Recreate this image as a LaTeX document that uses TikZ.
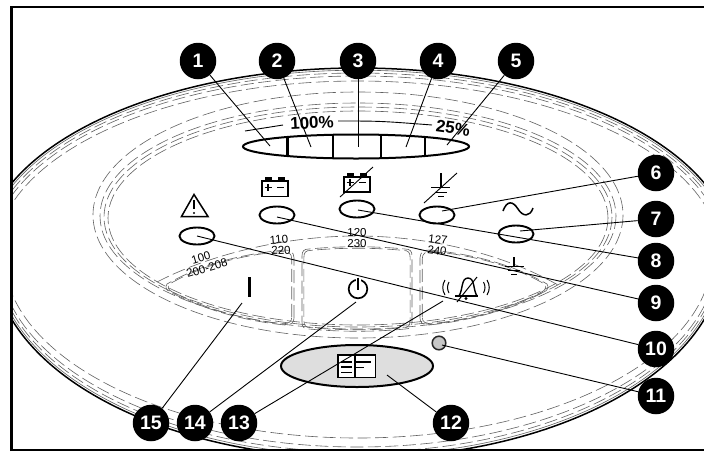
\documentclass[tikz,border=0pt]{standalone}
\usepackage{fontspec}
\setmainfont{Liberation Sans}
% #1 style, #2 top offset, #3 bottom x offset, #4 bottom y offset
\newcommand\Shell[4]{%
 \begin{scope}\clip (12,8) rectangle (704,255);\draw[#1] (358,255) ellipse [x radius=375-#2,y radius=187-#2];\end{scope}%
 \begin{scope}\clip (12,255) rectangle (704,450);\draw[#1] (358,255) ellipse [x radius=365-#3,y radius=203-#4];\end{scope}}
\tikzset{
 badge/.style={circle,fill=black,text=white,minimum size=36.5,inner sep=0,font=\fontsize{19.5}{20}\selectfont\bfseries},
 leader/.style={line width=.9,black},
 ring/.style={line width=.6,draw=black!62,dash pattern=on 13 off 4.5},
 led/.style={draw=black,line width=1.9,fill=none},
 volt/.style={inner sep=0,font=\fontsize{11.5}{12}\selectfont},
 pct/.style={inner sep=0,font=\fontsize{17}{18}\selectfont\bfseries},
 icon/.style={line width=1.5,black}
}
\begin{document}
\begin{tikzpicture}[x=1pt,y=-1pt]
\useasboundingbox (0,0) rectangle (704,451);
\fill[white] (0,0) rectangle (704,451);
% outer shell
\Shell{line width=1.5,black}{0}{0}{0}
\Shell{line width=.6,black!62}{2.2}{2}{2.5}
\Shell{ring}{5}{4}{6}
\Shell{ring}{8}{6}{11}
\Shell{ring}{13}{11}{20}
% inner rings
\draw[ring] (358,215) ellipse [x radius=265,y radius=123];
\draw[ring] (358,216) ellipse [x radius=258,y radius=113];
\draw[ring] (358,217) ellipse [x radius=254,y radius=110];
\draw[ring] (358,218) ellipse [x radius=250,y radius=107];
% panels
\draw[ring] (157,282) .. controls (215,252) and (290,236) .. (357,236) .. controls (425,236) and (500,252) .. (558,285);
\foreach \i/\s in {0/1,1/.965}{
 \begin{scope}[shift={(231,288)},xscale=\s,yscale=\s,shift={(-231,-288)}]
 \draw[ring] (294,318) -- (294,258) .. controls (294,252) and (290,250) .. (285,250) .. controls (240,254) and (200,265) .. (167,284) .. controls (165,287) and (166,290) .. (170,292) .. controls (205,310) and (245,321) .. (285,325) .. controls (291,325) and (294,323) .. (294,318);
 \end{scope}
 \begin{scope}[shift={(483,288)},xscale=\s,yscale=\s,shift={(-483,-288)}]
 \draw[ring] (420,318) -- (420,258) .. controls (420,252) and (424,250) .. (429,250) .. controls (474,254) and (514,265) .. (547,284) .. controls (549,287) and (548,290) .. (544,292) .. controls (509,310) and (469,321) .. (429,325) .. controls (423,325) and (420,323) .. (420,318);
 \end{scope}
 \begin{scope}[shift={(357,289)},xscale=\s,yscale=\s,shift={(-357,-289)}]
 \draw[ring] (302,256) .. controls (302,251) and (304,249) .. (309,249) .. controls (340,246) and (375,246) .. (405,249) .. controls (410,249) and (412,251) .. (412,256) -- (412,322) .. controls (412,327) and (410,329) .. (405,329) .. controls (375,332) and (340,332) .. (309,329) .. controls (304,329) and (302,327) .. (302,322) -- cycle;
 \end{scope}
}
% scale line and bar
\coordinate (sa) at (245,131);\coordinate (sb) at (283,125);
\coordinate (sc) at (338,121);\coordinate (sd) at (380,121);\coordinate (se) at (432,125);
\draw[line width=.9] (sa) -- (sb);
\draw[line width=.9] (sc) .. controls (sd) .. (se);
\node[pct,rotate=3] (p100) at (312,123) {100\%};
\node[pct,rotate=-8] (p25) at (453,128) {25\%};
\begin{scope}
\clip (356,146.5) ellipse [x radius=113,y radius=12];
\foreach \x in {287.5,333,381,425}{\draw[line width=2.4] (\x,130) -- (\x,165);}
\end{scope}
\draw[line width=2] (356,146.5) ellipse [x radius=113,y radius=12];
% LEDs
\draw[led] (197,236) ellipse [x radius=17.5,y radius=8.5];
\draw[led] (277,215) ellipse [x radius=17.5,y radius=8.5];
\draw[led] (357,209) ellipse [x radius=17.5,y radius=8.5];
\draw[led] (437,215) ellipse [x radius=17.5,y radius=8.5];
\draw[led] (516,234) ellipse [x radius=17.5,y radius=8.5];
% voltage labels
\node[volt,rotate=17] (v100) at (201,258) {100};
\node[volt,rotate=17] (v200) at (207,268) {200-208};
\node[volt,rotate=5] (v110) at (279,239.5) {110};
\node[volt,rotate=3] (v220) at (281,250.5) {220};
\node[volt] (v120) at (357,232.5) {120};
\node[volt] (v230) at (357,243.5) {230};
\node[volt,rotate=-7] (v127) at (438,239.5) {127};
\node[volt,rotate=-7] (v240) at (437,250.5) {240};
% warning
\draw[icon,line join=miter] (194,194.5) -- (181.5,216.5) -- (208,216.5) -- cycle;
\draw[line width=2] (194,200) -- (194,209);
\fill (194,213) circle (1.2);
% battery
\draw[icon] (262,181) rectangle (288,196.5);
\fill (265,177) rectangle (272,181);\fill (278,177) rectangle (285,181);
\draw[line width=1.7] (268,184) -- (268,191) (264.5,187.5) -- (271.5,187.5) (277,187.5) -- (284,187.5);
% crossed battery
\draw[icon] (344,177) rectangle (370,192);
\fill (347,173) rectangle (354,177);\fill (360,173) rectangle (367,177);
\draw[line width=1.7] (350,179) -- (350,186) (346.5,182.5) -- (353.5,182.5) (359,182.5) -- (366,182.5);
\draw[line width=.9] (340,197) -- (373,167);
% ground crossed
\draw[line width=1.1] (441,173) -- (441,187) (431,187.5) -- (450,187.5);
\draw[line width=1.9] (435,192.5) -- (447,192.5);
\draw[line width=1.7] (438,196.5) -- (444,196.5);
\draw[line width=.9] (424,203) -- (457,173);
% sine
\draw[line width=1.5] (503,211) .. controls (507,200) and (513,201) .. (518,209) .. controls (523,217) and (530,217) .. (533,208);
% ground lower
\draw[line width=1.1] (514,257) -- (514,266) (505,266.5) -- (524,266.5);
\draw[line width=1.9] (508,270.5) -- (520,270.5);
\draw[line width=1.7] (511,274.5) -- (517,274.5);
% I
\draw[line width=3] (249,277) -- (249,297);
% power
\draw[line width=1.7] (358,289) circle (9.3);
\draw[line width=5,white] (358,276) -- (358,284);
\draw[line width=1.9] (358,277.5) -- (358,290);
% bell
\draw[line width=1.4] (459,296) .. controls (463,290) and (461,278) .. (468,278) .. controls (475,278) and (473,290) .. (477,296);
\draw[line width=1.6] (455,296) -- (478,296);
\fill (466,298.5) circle (1.7);
\draw[line width=1] (457,302) -- (477,277);
\draw[line width=1] (449,282) .. controls (447,286) and (447,289) .. (449,293);
\draw[line width=1] (445,280) .. controls (442,285) and (442,290) .. (445,295);
\draw[line width=1] (483.5,282) .. controls (485.5,286) and (485.5,289) .. (483.5,293);
\draw[line width=1] (487,280) .. controls (490,285) and (490,290) .. (487,295);
% button and indicator
\draw[line width=2,fill=black!13] (357,366) ellipse [x radius=76,y radius=21];
\draw[line width=1.7,fill=white] (338,355) rectangle (375.5,377.5);
\draw[line width=1.7] (341,362) -- (352,362) (341,367) -- (352,367) (341,372.5) -- (352,372.5) (355,356) -- (355,377) (355,362) -- (371,362) (355,367.5) -- (364,367.5);
\draw[line width=1.5,draw=black!85,fill=black!22] (439,343) circle (6.8);
% badges
\node[badge] (b1) at (198,61) {1};
\node[badge] (b2) at (277,61) {2};
\node[badge] (b3) at (358,61) {3};
\node[badge] (b4) at (438,61) {4};
\node[badge] (b5) at (516,61) {5};
\node[badge] (b6) at (656,173) {6};
\node[badge] (b7) at (656,219) {7};
\node[badge] (b8) at (656,261) {8};
\node[badge] (b9) at (656,303) {9};
\node[badge] (b10) at (656,349) {10};
\node[badge] (b11) at (656,396) {11};
\node[badge] (b12) at (451,423) {12};
\node[badge] (b13) at (239,423) {13};
\node[badge] (b14) at (195,423) {14};
\node[badge] (b15) at (151,423) {15};
% leader ends
\coordinate (e1) at (270,146);\coordinate (e2) at (311,147);\coordinate (e3) at (358,147);
\coordinate (e4) at (406,147);\coordinate (e5) at (447,145);\coordinate (e6) at (442,211);
\coordinate (e7) at (520,231);\coordinate (e8) at (358,210);\coordinate (e9) at (277,217);
\coordinate (e10) at (197,236);\coordinate (e11) at (442,345);\coordinate (e12) at (387,375);
\coordinate (e13) at (443,301);\coordinate (e14) at (356,302);\coordinate (e15) at (242,303);
\foreach \n in {1,...,15}{\draw[leader] (b\n) -- (e\n);}
% frame
\draw[line width=2.6] (11.5,451) -- (11.5,7);
\draw[line width=2] (10.2,7) -- (704,7);
\draw[line width=1.6] (10.2,450.2) -- (704,450.2);
\end{tikzpicture}
\end{document}
